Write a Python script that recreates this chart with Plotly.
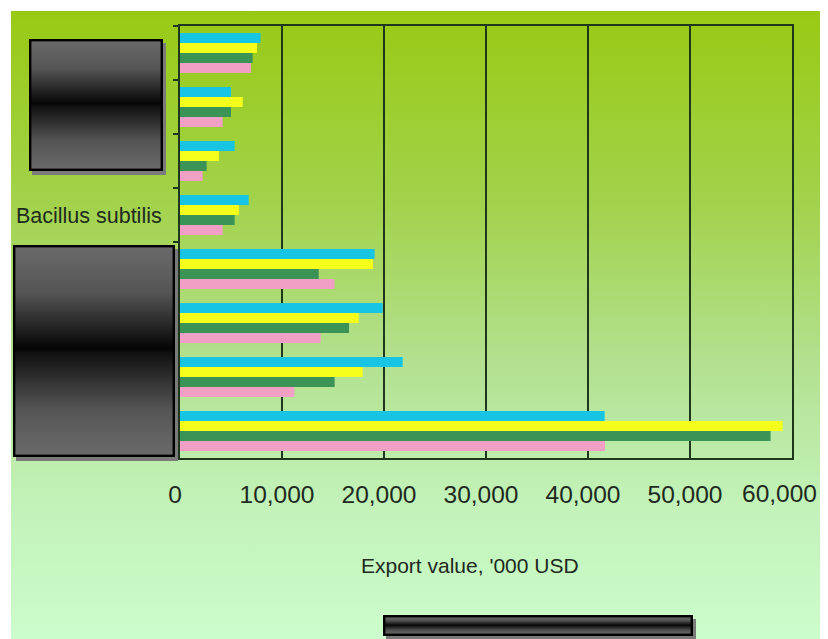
import base64
import plotly.graph_objects as go

# ---------------- data ----------------
categories = ["c1", "c2", "c3", "Bacillus subtilis", "c5", "c6", "c7", "c8"]
tick_labels = ["", "", "", "Bacillus subtilis", "", "", "", ""]
series_names = ["Series 1", "Series 2", "Series 3", "Series 4"]
series1 = [7900, 5000, 5360, 6730, 19080, 19870, 21830, 41630]
series2 = [7550, 6150, 3820, 5780, 18920, 17520, 17910, 59080]
series3 = [7120, 5000, 2610, 5360, 13600, 16570, 15160, 57900]
series4 = [6960, 4180, 2220, 4180, 15130, 13790, 11210, 41670]
x_ticks = [0, 10000, 20000, 30000, 40000, 50000, 60000]
x_tick_text = ["0", "10,000", "20,000", "30,000", "40,000", "50,000", "60,000"]

colors = ["#17C4E4", "#F6FF1C", "#3B9356", "#F29FC6"]
OFF = 8  # page body margin: figure coordinates = page coordinates - OFF
PW, PH = 828, 639
W, H = PW - OFF, PH - OFF
L, R, T, B = 180 - OFF, 792 - OFF, 26 - OFF, 458 - OFF
grid_col = "#1E361C"
text_col = "#1E2A1E"


def px_x(p):
    return (p - OFF - L) / (R - L)


def px_y(p):
    return (B - (p - OFF)) / (B - T)


def svg_uri(svg):
    return "data:image/svg+xml;base64," + base64.b64encode(svg.encode()).decode()


bg_svg = (
    '<svg xmlns="http://www.w3.org/2000/svg" width="100" height="100" preserveAspectRatio="none" viewBox="0 0 100 100">'
    '<defs><linearGradient id="g" x1="0" y1="0" x2="0" y2="1">'
    '<stop offset="0" stop-color="#98CA14"/>'
    '<stop offset="0.3" stop-color="#A2D24A"/>'
    '<stop offset="0.55" stop-color="#B2E08E"/>'
    '<stop offset="0.78" stop-color="#C2F2B8"/>'
    '<stop offset="1" stop-color="#CCFDCC"/>'
    '</linearGradient></defs><rect x="0" y="0" width="100" height="100" fill="url(#g)"/></svg>'
)


def box_svg(w, h, sx=3, sy=4):
    tw, th = w + sx, h + sy
    return (
        f'<svg xmlns="http://www.w3.org/2000/svg" width="{tw}" height="{th}" viewBox="0 0 {tw} {th}" preserveAspectRatio="none">'
        '<defs><linearGradient id="b" x1="0" y1="0" x2="0" y2="1">'
        '<stop offset="0" stop-color="#6A6A6A"/><stop offset="0.22" stop-color="#555"/>'
        '<stop offset="0.49" stop-color="#050505"/><stop offset="0.51" stop-color="#111"/>'
        '<stop offset="0.78" stop-color="#555"/><stop offset="1" stop-color="#6A6A6A"/>'
        '</linearGradient></defs>'
        f'<rect x="{sx}" y="{sy}" width="{w}" height="{h}" fill="#7A7A7A"/>'
        f'<rect x="1.2" y="1.2" width="{w-2.4}" height="{h-2.4}" fill="url(#b)" stroke="#000" stroke-width="2.4"/>'
        '</svg>'
    )


images = [
    dict(source=svg_uri(bg_svg), xref="paper", yref="paper", x=px_x(11), y=px_y(11),
         sizex=px_x(PW + 2) - px_x(11), sizey=px_y(11) - px_y(PH + 2), sizing="stretch",
         xanchor="left", yanchor="top", layer="below"),
]
for (x0, y0, x1, y1) in [(29, 39, 163, 171), (13, 245, 175, 457), (383, 615, 693, 636)]:
    w, h = x1 - x0, y1 - y0
    images.append(dict(source=svg_uri(box_svg(w, h)), xref="paper", yref="paper",
                       x=px_x(x0), y=px_y(y0), sizex=px_x(x1 + 3) - px_x(x0),
                       sizey=px_y(y0) - px_y(y1 + 4), sizing="stretch",
                       xanchor="left", yanchor="top", layer="above"))

fig = go.Figure()
for name, vals, col in zip(series_names, [series1, series2, series3, series4], colors):
    fig.add_trace(go.Bar(y=categories, x=vals, name=name, orientation="h",
                         marker=dict(color=col, line=dict(width=0))))

annotations = [
    dict(text="Export value, '000 USD", xref="paper", yref="paper",
         x=px_x(470), y=px_y(565), xanchor="center", yanchor="middle",
         showarrow=False, font=dict(size=21, color=text_col)),
    # last tick label pulled inside the page edge (as in the reference)
    dict(text=x_tick_text[-1], xref="x", yref="paper", x=x_ticks[-1], xshift=27,
         y=px_y(493.5), xanchor="right", yanchor="middle",
         showarrow=False, font=dict(size=24.5, color=text_col)),
]

fig.update_layout(
    width=W, height=H,
    margin=dict(l=L, r=W - R, t=T, b=H - B, autoexpand=False),
    paper_bgcolor="white", plot_bgcolor="rgba(0,0,0,0)",
    barmode="group", bargap=0.26, bargroupgap=0,
    showlegend=False,
    font=dict(family="Liberation Sans, Arial, sans-serif", color=text_col),
    images=images,
    annotations=annotations,
)
fig.update_xaxes(range=[0, 60000], tickvals=x_ticks[:-1], ticktext=x_tick_text[:-1], ticks="",
                 showgrid=True, gridcolor=grid_col, gridwidth=2,
                 showline=True, linecolor=grid_col, linewidth=2, mirror=True,
                 tickfont=dict(size=24.5), ticklabelstandoff=14, ticklabelshift=-5,
                 ticklabeloverflow="allow", zeroline=False, automargin=False)
fig.update_yaxes(type="category", autorange="reversed", tickvals=categories, ticktext=tick_labels,
                 ticks="outside", tickson="boundaries", ticklen=5, tickcolor=grid_col, tickwidth=2,
                 showgrid=False, showline=True, linecolor=grid_col, linewidth=2, mirror=True,
                 tickfont=dict(size=21.5), ticklabelstandoff=12, automargin=False)

fig.write_html("out.html")
